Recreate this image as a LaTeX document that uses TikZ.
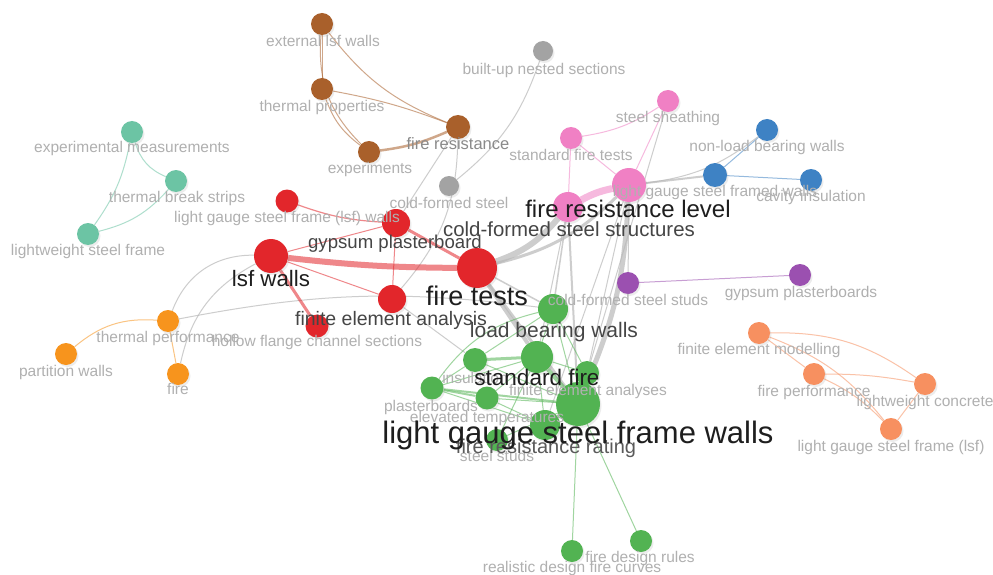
\documentclass[tikz,border=0pt]{standalone}
\usepackage{fontspec}
\setmainfont{Liberation Sans}
\usetikzlibrary{shadows}
\definecolor{cbrown}{HTML}{A9602B}
\definecolor{cteal}{HTML}{6CC4A4}
\definecolor{cred}{HTML}{E2262B}
\definecolor{cpink}{HTML}{F080C4}
\definecolor{cblue}{HTML}{3E82C4}
\definecolor{cpurple}{HTML}{9B50B0}
\definecolor{cgreen}{HTML}{52B352}
\definecolor{corange}{HTML}{F7941D}
\definecolor{csalmon}{HTML}{F79060}
\definecolor{cgray}{HTML}{A3A3A3}
\definecolor{edgegray}{HTML}{B8B8B8}
\definecolor{lbllight}{HTML}{B0B0B0}
\definecolor{lblgray}{HTML}{8A8A8A}
\definecolor{lblmid}{HTML}{454545}
\definecolor{lblmidb}{HTML}{5A5A5A}
\definecolor{lbldark}{HTML}{1E1E1E}
\pgfdeclarelayer{bgl}
\pgfdeclarelayer{edges}
\pgfsetlayers{bgl,edges,main}
\tikzset{
  kw/.style={circle, inner sep=0pt, minimum size=#1, draw=none,
    drop shadow={opacity=0.15, shadow xshift=1.5pt, shadow yshift=-2pt}},
  cl/.style={draw=#1, draw opacity=0.55, line width=1},
  ge/.style={draw=edgegray, draw opacity=0.7, line width=1},
}
\newcommand\mklabel[6]{\node[inner sep=0pt, anchor=base, font=\fontsize{#4}{#4}\selectfont, text=#5] (#1) at (#2,{#3+0.3*#4}) {#6};}
\begin{document}
\begin{tikzpicture}[x=1pt,y=-1pt]
\useasboundingbox (0,0) rectangle (993,575);
\begin{pgfonlayer}{bgl}
\fill[white] (0,0) rectangle (993,575);
\end{pgfonlayer}
% ---------- nodes ----------
\node[kw=22, fill=cbrown] (els) at (322,24) {};
\node[kw=22, fill=cbrown] (tp) at (322,89) {};
\node[kw=22, fill=cbrown] (exper) at (369,152) {};
\node[kw=24, fill=cbrown] (fres) at (458,127) {};
\node[kw=20, fill=cgray] (bns) at (543,51) {};
\node[kw=20, fill=cgray] (cfsg) at (449,186) {};
\node[kw=22, fill=cteal] (em) at (132,132) {};
\node[kw=22, fill=cteal] (tbs) at (176,181) {};
\node[kw=22, fill=cteal] (lwsf) at (88,234) {};
\node[kw=23, fill=cred] (lgsfr) at (287,201) {};
\node[kw=28, fill=cred] (gp) at (396,223) {};
\node[kw=34, fill=cred] (lsfw) at (271,256) {};
\node[kw=40, fill=cred] (ft) at (477,268) {};
\node[kw=28, fill=cred] (fea) at (392,299) {};
\node[kw=23, fill=cred] (hfcs) at (317,326) {};
\node[kw=22, fill=corange] (tperf) at (168,321) {};
\node[kw=22, fill=corange] (pw) at (66,354) {};
\node[kw=22, fill=corange] (fire) at (178,374) {};
\node[kw=22, fill=cpink] (ss) at (668,101) {};
\node[kw=22, fill=cpink] (sft) at (571,138) {};
\node[kw=34, fill=cpink] (frl) at (629,185) {};
\node[kw=30, fill=cpink] (cfss) at (568,207) {};
\node[kw=24, fill=cblue] (lgsfwb) at (715,175) {};
\node[kw=22, fill=cblue] (nlbw) at (767,130) {};
\node[kw=22, fill=cblue] (ci) at (811,180) {};
\node[kw=22, fill=cpurple] (cfsst) at (628,283) {};
\node[kw=22, fill=cpurple] (gpb) at (800,275) {};
\node[kw=22, fill=csalmon] (fem) at (759,333) {};
\node[kw=22, fill=csalmon] (fp) at (814,374) {};
\node[kw=22, fill=csalmon] (lc) at (925,384) {};
\node[kw=22, fill=csalmon] (lgsfs) at (891,429) {};
\node[kw=30, fill=cgreen] (lbw) at (553,309) {};
\node[kw=24, fill=cgreen] (ins) at (475,360) {};
\node[kw=23, fill=cgreen] (pb) at (432,388) {};
\node[kw=23, fill=cgreen] (et) at (487,398) {};
\node[kw=22, fill=cgreen] (studs) at (497,440) {};
\node[kw=24, fill=cgreen] (fea2) at (587,373) {};
\node[kw=32, fill=cgreen] (sf) at (537,357) {};
\node[kw=30, fill=cgreen] (frr) at (545,425) {};
\node[kw=44, fill=cgreen] (lgsfw) at (578,404) {};
\node[kw=22, fill=cgreen] (rdfc) at (572,551) {};
\node[kw=22, fill=cgreen] (fdr) at (641,541) {};
% ---------- edges ----------
\begin{pgfonlayer}{edges}
% brown
\draw[cl=cbrown] (els) -- (tp);
\draw[cl=cbrown] (els) to[bend right=25] (exper);
\draw[cl=cbrown] (els) to[bend right=15] (fres);
\draw[cl=cbrown] (tp) to[bend right=16] (exper);
\draw[cl=cbrown] (tp) to[bend left=5] (fres);
\draw[cl=cbrown, line width=2.5] (exper) to[bend right=8] (fres);
% gray links
\draw[ge] (fres) -- (gp);
\draw[ge] (fres) to[bend left=20] (fea);
\draw[ge] (cfsg) to[bend right=16] (bns);
% teal
\draw[cl=cteal] (em) to[bend right=25] (tbs);
\draw[cl=cteal] (em) to[bend left=12] (lwsf);
\draw[cl=cteal] (tbs) to[bend left=17] (lwsf);
% orange
\draw[cl=corange] (tperf) to[bend right=22] (pw);
\draw[cl=corange] (tperf) -- (fire);
\draw[ge] (tperf) to[bend left=35] (lsfw);
\draw[ge] (fire) to[bend left=25] (lsfw);
\draw[ge] (tperf) to[bend left=9] (lbw);
% red
\draw[cl=cred, line width=1.2] (lgsfr) to[bend right=8] (gp);
\draw[cl=cred] (lsfw) -- (gp);
\draw[cl=cred, line width=6] (lsfw) to[bend right=3] (ft);
\draw[cl=cred] (lsfw) -- (fea);
\draw[cl=cred, line width=3] (lsfw) -- (hfcs);
\draw[cl=cred, line width=3] (gp) -- (ft);
\draw[cl=cred] (gp) -- (fea);
% pink
\draw[cl=cpink] (sft) to[bend right=12] (ss);
\draw[cl=cpink] (ss) -- (frl);
\draw[cl=cpink] (sft) -- (frl);
\draw[cl=cpink] (sft) -- (cfss);
\draw[cl=cpink, line width=7] (cfss) to[bend left=8] (frl);
\draw[ge] (ss) -- (lgsfw);
% blue
\draw[cl=cblue] (lgsfwb) -- (nlbw);
\draw[cl=cblue] (lgsfwb) -- (ci);
\draw[ge, line width=2] (frl) -- (lgsfwb);
\draw[ge] (frl) to[bend right=15] (nlbw);
% purple
\draw[cl=cpurple] (cfsst) -- (gpb);
\draw[ge] (frl) -- (cfsst);
% salmon
\draw[cl=csalmon] (fem) -- (fp);
\draw[cl=csalmon] (fem) to[bend left=18] (lc);
\draw[cl=csalmon] (fem) to[bend left=15] (lgsfs);
\draw[cl=csalmon] (fp) to[bend left=5] (lc);
\draw[cl=csalmon] (fp) to[bend left=10] (lgsfs);
\draw[cl=csalmon] (lc) -- (lgsfs);
% central gray
\draw[ge, line width=6] (ft) to[bend right=15] (cfss);
\draw[ge, line width=3] (ft) to[bend right=15] (frl);
\draw[ge, line width=4] (ft) -- (sf);
\draw[ge, line width=3] (ft) -- (lgsfw);
\draw[ge, line width=1.5] (ft) -- (lbw);
\draw[ge, line width=2] (cfss) -- (lgsfw);
\draw[ge, line width=1.5] (cfss) -- (lbw);
\draw[ge] (cfss) -- (sf);
\draw[ge, line width=5] (frl) to[bend left=10] (lgsfw);
\draw[ge] (frl) -- (frr);
\draw[ge] (frl) -- (fea2);
\draw[ge] (fea) -- (ins);
% green
\draw[cl=cgreen] (lbw) -- (sf);
\draw[cl=cgreen] (lbw) to[bend right=20] (pb);
\draw[cl=cgreen] (lbw) -- (ins);
\draw[cl=cgreen] (lbw) -- (lgsfw);
\draw[cl=cgreen] (lbw) -- (fea2);
\draw[cl=cgreen, line width=3] (sf) -- (ins);
\draw[cl=cgreen] (sf) -- (pb);
\draw[cl=cgreen] (sf) -- (et);
\draw[cl=cgreen, line width=4] (sf) -- (lgsfw);
\draw[cl=cgreen] (sf) -- (frr);
\draw[cl=cgreen] (sf) -- (fea2);
\draw[cl=cgreen] (sf) -- (studs);
\draw[cl=cgreen] (ins) -- (pb);
\draw[cl=cgreen] (ins) -- (lgsfw);
\draw[cl=cgreen, line width=2] (pb) -- (et);
\draw[cl=cgreen, line width=2] (pb) -- (lgsfw);
\draw[cl=cgreen] (pb) -- (frr);
\draw[cl=cgreen] (et) -- (lgsfw);
\draw[cl=cgreen] (et) -- (frr);
\draw[cl=cgreen] (fea2) -- (lgsfw);
\draw[cl=cgreen, line width=3] (lgsfw) -- (frr);
\draw[cl=cgreen] (lgsfw) -- (studs);
\draw[cl=cgreen] (lgsfw) -- (rdfc);
\draw[cl=cgreen] (lgsfw) -- (fdr);
\end{pgfonlayer}
% ---------- labels ----------
\mklabel{t-els}{323}{42}{15.5}{lbllight}{external lsf walls}
\mklabel{t-tp}{322}{107}{15.5}{lbllight}{thermal properties}
\mklabel{t-exper}{370}{169}{15.5}{lbllight}{experiments}
\mklabel{t-bns}{544}{70}{15.5}{lbllight}{built-up nested sections}
\mklabel{t-cfsg}{449}{204}{15.5}{lbllight}{cold-formed steel}
\mklabel{t-em}{132}{148}{15.5}{lbllight}{experimental measurements}
\mklabel{t-tbs}{177}{198}{15.5}{lbllight}{thermal break strips}
\mklabel{t-lwsf}{88}{251}{15.5}{lbllight}{lightweight steel frame}
\mklabel{t-lgsfr}{287}{218}{15.5}{lbllight}{light gauge steel frame (lsf) walls}
\mklabel{t-hfcs}{317}{342}{15.5}{lbllight}{hollow flange channel sections}
\mklabel{t-tperf}{168}{338}{15.5}{lbllight}{thermal performance}
\mklabel{t-pw}{66}{372}{15.5}{lbllight}{partition walls}
\mklabel{t-fire}{178}{390}{15.5}{lbllight}{fire}
\mklabel{t-ss}{668}{118}{15.5}{lbllight}{steel sheathing}
\mklabel{t-sft}{571}{156}{15.5}{lbllight}{standard fire tests}
\mklabel{t-lgsfwb}{715}{192}{15.5}{lbllight}{light gauge steel framed walls}
\mklabel{t-nlbw}{767}{147}{15.5}{lbllight}{non-load bearing walls}
\mklabel{t-ci}{811}{197}{15.5}{lbllight}{cavity insulation}
\mklabel{t-cfsst}{628}{301}{15.5}{lbllight}{cold-formed steel studs}
\mklabel{t-gpb}{801}{293}{15.5}{lbllight}{gypsum plasterboards}
\mklabel{t-fem}{759}{350}{15.5}{lbllight}{finite element modelling}
\mklabel{t-fp}{814}{392}{15.5}{lbllight}{fire performance}
\mklabel{t-lc}{925}{402}{15.5}{lbllight}{lightweight concrete}
\mklabel{t-lgsfs}{891}{447}{15.5}{lbllight}{light gauge steel frame (lsf)}
\mklabel{t-ins}{475}{379}{15.5}{lbllight}{insulation}
\mklabel{t-pb}{431}{407}{15.5}{lbllight}{plasterboards}
\mklabel{t-et}{487}{418}{15.5}{lbllight}{elevated temperatures}
\mklabel{t-fea2}{588}{391}{15.5}{lbllight}{finite element analyses}
\mklabel{t-studs}{497}{457}{15.5}{lbllight}{steel studs}
\mklabel{t-rdfc}{572}{568}{15.5}{lbllight}{realistic design fire curves}
\mklabel{t-fdr}{640}{558}{15.5}{lbllight}{fire design rules}
\mklabel{t-fres}{458}{145}{16.5}{lblgray}{fire resistance}
\mklabel{t-gp}{395}{243}{18.6}{lblmid}{gypsum plasterboard}
\mklabel{t-fea}{391}{320}{19.5}{lblmid}{finite element analysis}
\mklabel{t-frr}{546}{447}{20}{lblmidb}{fire resistance rating}
\mklabel{t-cfss}{569}{230}{20.4}{lblmid}{cold-formed steel structures}
\mklabel{t-lbw}{554}{331}{21}{lblmid}{load bearing walls}
\mklabel{t-lsfw}{271}{280}{22.3}{lbldark}{lsf walls}
\mklabel{t-sf}{537}{379}{22.5}{lbldark}{standard fire}
\mklabel{t-frl}{628}{210}{24}{lbldark}{fire resistance level}
\mklabel{t-ft}{477}{297}{27}{lbldark}{fire tests}
\mklabel{t-lgsfw}{578}{434}{31}{lbldark}{light gauge steel frame walls}
\end{tikzpicture}
\end{document}
